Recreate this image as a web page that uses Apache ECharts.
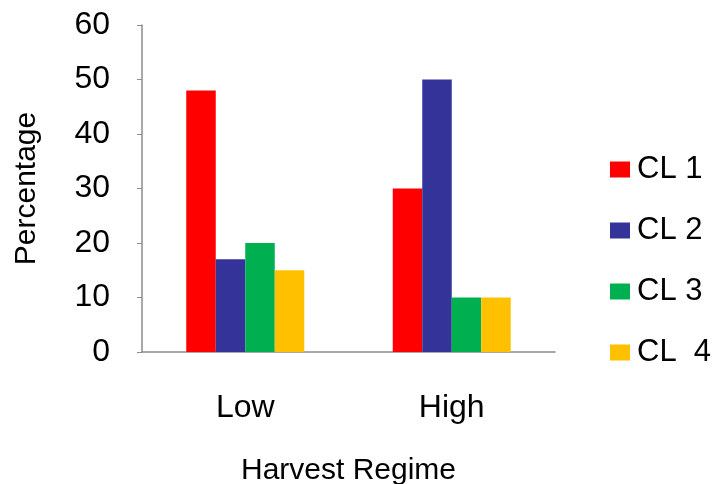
<!DOCTYPE html>
<html>
<head>
<meta charset="utf-8">
<script src="https://cdn.jsdelivr.net/npm/echarts@6/dist/echarts.min.js"></script>
<style>
  html, body { margin: 0; padding: 0; background: #fff; }
  #chart { width: 717px; height: 484px; }
</style>
</head>
<body>
<div id="chart"></div>
<script>
// Harvest regime categories and the share of each class (%)
const categories = ['Low', 'High'];
const seriesNames = ['CL 1', 'CL 2', 'CL 3', 'CL  4'];
const cl1 = [48, 30];
const cl2 = [17, 50];
const cl3 = [20, 10];
const cl4 = [15, 10];
const yTicks = [0, 10, 20, 30, 40, 50, 60];

const values = [cl1, cl2, cl3, cl4];
const colors = ['#FF0000', '#333399', '#00B050', '#FFC000'];
const font = 'Liberation Sans, Arial, sans-serif';

const chart = echarts.init(document.getElementById('chart'));
chart.setOption({
  animation: false,
  textStyle: { fontFamily: font },
  grid: {
    left: 142, right: 162, top: 25, bottom: 132,
    containLabel: false,
    outerBoundsMode: 'none'
  },
  legend: {
    orient: 'vertical',
    left: 610,
    top: 154,
    padding: 0,
    itemWidth: 20,
    itemHeight: 16,
    itemGap: 30,
    icon: 'rect',
    textStyle: { fontSize: 31, color: '#000', fontFamily: font, lineHeight: 30, padding: [0, 0, 0, 2] },
    data: seriesNames
  },
  xAxis: {
    type: 'category',
    data: categories,
    name: 'Harvest Regime',
    nameLocation: 'middle',
    nameGap: 104,
    nameTextStyle: { fontSize: 30, color: '#000', fontFamily: font },
    axisLine: { lineStyle: { color: '#8c8c8c', width: 1.5 } },
    axisTick: { show: false },
    axisLabel: { fontSize: 32, color: '#000', margin: 40, fontFamily: font }
  },
  yAxis: {
    type: 'value',
    min: yTicks[0],
    max: yTicks[yTicks.length - 1],
    interval: 10,
    name: 'Percentage',
    nameLocation: 'middle',
    nameGap: 100,
    nameRotate: 90,
    nameTextStyle: { fontSize: 30, color: '#000', fontFamily: font },
    axisLine: { show: true, lineStyle: { color: '#8c8c8c', width: 1.5 } },
    axisTick: { show: true, inside: false, length: 5, lineStyle: { color: '#8c8c8c' } },
    splitLine: { show: false },
    axisLabel: { fontSize: 32, color: '#000', margin: 32, fontFamily: font }
  },
  series: seriesNames.map((name, i) => ({
    name: name,
    type: 'bar',
    data: values[i],
    itemStyle: { color: colors[i] },
    barWidth: 29.5,
    barGap: '0%',
    barCategoryGap: '43%'
  }))
});
</script>
</body>
</html>
